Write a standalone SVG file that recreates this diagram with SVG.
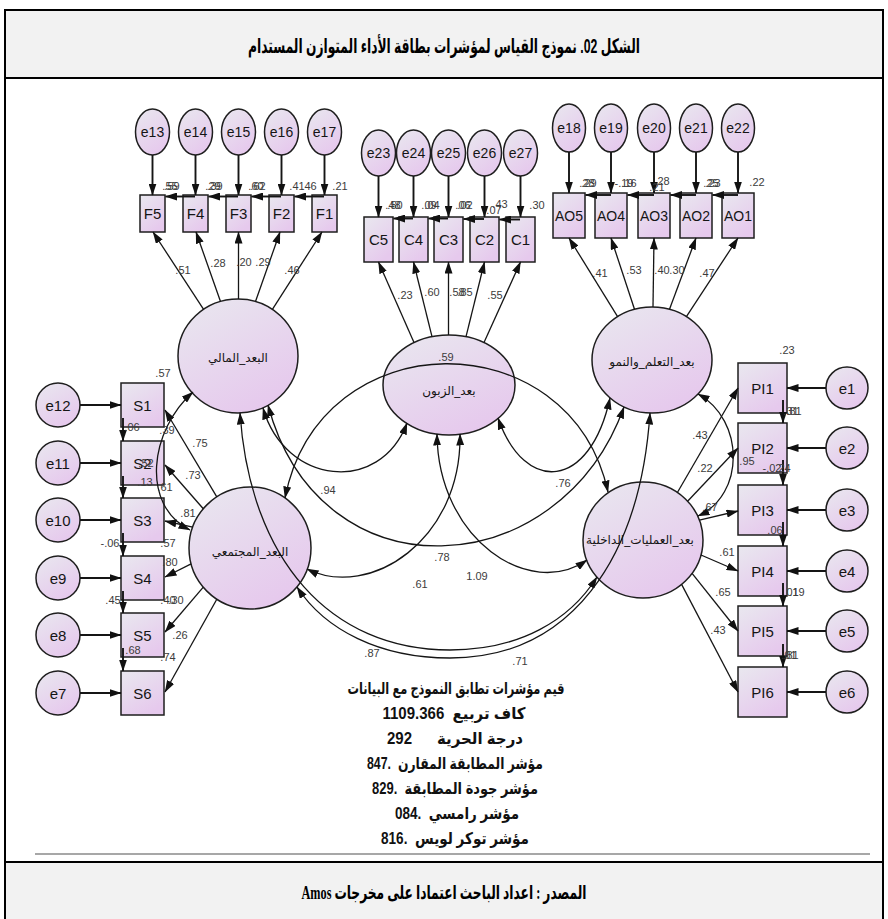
<svg xmlns="http://www.w3.org/2000/svg" width="888" height="919" viewBox="0 0 888 919">
<defs>
<linearGradient id="fillG" x1="0" y1="0" x2="0.6" y2="1">
<stop offset="0" stop-color="#e9e8ef"/><stop offset="1" stop-color="#e6c9ed"/>
</linearGradient>
<marker id="ah" viewBox="0 0 12 8" refX="11.5" refY="4" markerWidth="12" markerHeight="8" markerUnits="userSpaceOnUse" orient="auto-start-reverse"><path d="M0,0 L12,4 L0,8 Z" fill="#111"/></marker>
<style>
.nd{fill:url(#fillG);stroke:#1e1e1e;stroke-width:1.5}
.t{font-family:"Liberation Sans",Arial,sans-serif;font-size:15px;fill:#151515;text-anchor:middle;dominant-baseline:central}
.ts{font-size:14px}
.ar{font-family:"DejaVu Sans","Liberation Sans",sans-serif;font-size:12px;fill:#151515;text-anchor:middle;direction:rtl;dominant-baseline:central}
.n{font-family:"Liberation Sans",Arial,sans-serif;font-size:11px;fill:#3c3c3c;text-anchor:middle}
.c{fill:none;stroke:#151515;stroke-width:1.3;marker-end:url(#ah)}
.cv{marker-start:url(#ah)}
.e{stroke-width:1.9}
.fit{font-family:"Liberation Sans","DejaVu Sans",sans-serif;font-size:16px;font-weight:bold;fill:#111;text-anchor:middle;direction:rtl;white-space:pre;dominant-baseline:central}
.band{fill:#f2f2f2;stroke:#000;stroke-width:2}
</style>
</defs>

<!-- frame, title and source bands -->
<rect x="5" y="10" width="878" height="915" fill="#fff" stroke="#000" stroke-width="2"/>
<rect class="band" x="5" y="10" width="878" height="68"/>
<text x="444" y="46" font-family="Liberation Sans, DejaVu Sans, sans-serif" font-size="20" font-weight="bold" text-anchor="middle" direction="rtl" dominant-baseline="central" textLength="392" lengthAdjust="spacingAndGlyphs">الشكل 02. نموذج القياس لمؤشرات بطاقة الأداء المتوازن المستدام</text>
<path d="M35 854H870" stroke="#8a8a8a" stroke-width="1.5"/>
<rect class="band" x="5" y="862" width="878" height="70"/>
<text x="444" y="892" font-family="Liberation Serif, DejaVu Sans, serif" font-size="19" font-weight="bold" text-anchor="middle" direction="rtl" dominant-baseline="central" textLength="285" lengthAdjust="spacingAndGlyphs">المصدر : اعداد الباحث اعتمادا على مخرجات Amos</text>

<!-- latent factors -->
<g id="f-mali"><ellipse class="nd" cx="238" cy="356" rx="60" ry="57"/><text class="ar" x="238" y="358">البعد_المالي</text></g>
<g id="f-zaboun"><ellipse class="nd" cx="449" cy="385" rx="66" ry="50"/><text class="ar" x="449" y="391">بعد_الزبون</text></g>
<g id="f-taallum"><ellipse class="nd" cx="652" cy="360" rx="60" ry="53"/><text class="ar" x="652" y="362">بعد_التعلم_والنمو</text></g>
<g id="f-mujtamai"><ellipse class="nd" cx="250" cy="548" rx="61" ry="61"/><text class="ar" x="250" y="552">البعد_المجتمعي</text></g>
<g id="f-amaliyat"><ellipse class="nd" cx="643" cy="540" rx="60" ry="58"/><text class="ar" x="640" y="540">بعد_العمليات_الداخلية</text></g>

<!-- financial indicators -->
<g id="e13"><ellipse class="nd" cx="152.5" cy="132" rx="17" ry="23"/><text class="t ts" x="152.5" y="132">e13</text></g>
<g id="e14"><ellipse class="nd" cx="195.5" cy="132" rx="17" ry="23"/><text class="t ts" x="195.5" y="132">e14</text></g>
<g id="e15"><ellipse class="nd" cx="238.5" cy="132" rx="17" ry="23"/><text class="t ts" x="238.5" y="132">e15</text></g>
<g id="e16"><ellipse class="nd" cx="281.5" cy="132" rx="17" ry="23"/><text class="t ts" x="281.5" y="132">e16</text></g>
<g id="e17"><ellipse class="nd" cx="324.5" cy="132" rx="17" ry="23"/><text class="t ts" x="324.5" y="132">e17</text></g>
<g id="F5"><rect class="nd" x="140" y="195" width="25" height="37"/><text class="t" x="152.5" y="213.5">F5</text></g>
<g id="F4"><rect class="nd" x="183" y="195" width="25" height="37"/><text class="t" x="195.5" y="213.5">F4</text></g>
<g id="F3"><rect class="nd" x="226" y="195" width="25" height="37"/><text class="t" x="238.5" y="213.5">F3</text></g>
<g id="F2"><rect class="nd" x="269" y="195" width="25" height="37"/><text class="t" x="281.5" y="213.5">F2</text></g>
<g id="F1"><rect class="nd" x="312" y="195" width="25" height="37"/><text class="t" x="324.5" y="213.5">F1</text></g>

<!-- customer indicators -->
<g id="e23"><ellipse class="nd" cx="378.5" cy="153" rx="17" ry="23"/><text class="t ts" x="378.5" y="153">e23</text></g>
<g id="e24"><ellipse class="nd" cx="413.5" cy="153" rx="17" ry="23"/><text class="t ts" x="413.5" y="153">e24</text></g>
<g id="e25"><ellipse class="nd" cx="448.5" cy="153" rx="17" ry="23"/><text class="t ts" x="448.5" y="153">e25</text></g>
<g id="e26"><ellipse class="nd" cx="484.5" cy="153" rx="17" ry="23"/><text class="t ts" x="484.5" y="153">e26</text></g>
<g id="e27"><ellipse class="nd" cx="520.5" cy="153" rx="17" ry="23"/><text class="t ts" x="520.5" y="153">e27</text></g>
<g id="C5"><rect class="nd" x="364" y="217" width="29" height="45"/><text class="t" x="378.5" y="239.5">C5</text></g>
<g id="C4"><rect class="nd" x="399" y="217" width="29" height="45"/><text class="t" x="413.5" y="239.5">C4</text></g>
<g id="C3"><rect class="nd" x="434" y="217" width="29" height="45"/><text class="t" x="448.5" y="239.5">C3</text></g>
<g id="C2"><rect class="nd" x="470" y="217" width="29" height="45"/><text class="t" x="484.5" y="239.5">C2</text></g>
<g id="C1"><rect class="nd" x="506" y="217" width="29" height="45"/><text class="t" x="520.5" y="239.5">C1</text></g>

<!-- learning and growth indicators -->
<g id="e18"><ellipse class="nd" cx="569" cy="128" rx="16.5" ry="24"/><text class="t ts" x="569" y="128">e18</text></g>
<g id="e19"><ellipse class="nd" cx="611" cy="128" rx="16.5" ry="24"/><text class="t ts" x="611" y="128">e19</text></g>
<g id="e20"><ellipse class="nd" cx="654" cy="128" rx="16.5" ry="24"/><text class="t ts" x="654" y="128">e20</text></g>
<g id="e21"><ellipse class="nd" cx="696" cy="128" rx="16.5" ry="24"/><text class="t ts" x="696" y="128">e21</text></g>
<g id="e22"><ellipse class="nd" cx="738" cy="128" rx="16.5" ry="24"/><text class="t ts" x="738" y="128">e22</text></g>
<g id="AO5"><rect class="nd" x="553" y="193" width="32" height="45"/><text class="t ts" x="569" y="215.5">AO5</text></g>
<g id="AO4"><rect class="nd" x="595" y="193" width="32" height="45"/><text class="t ts" x="611" y="215.5">AO4</text></g>
<g id="AO3"><rect class="nd" x="638" y="193" width="32" height="45"/><text class="t ts" x="654" y="215.5">AO3</text></g>
<g id="AO2"><rect class="nd" x="680" y="193" width="32" height="45"/><text class="t ts" x="696" y="215.5">AO2</text></g>
<g id="AO1"><rect class="nd" x="722" y="193" width="32" height="45"/><text class="t ts" x="738" y="215.5">AO1</text></g>

<!-- social indicators -->
<g id="e12"><circle class="nd" cx="58" cy="405" r="22"/><text class="t" x="58" y="405">e12</text></g>
<g id="e11"><circle class="nd" cx="58" cy="463" r="22"/><text class="t" x="58" y="463">e11</text></g>
<g id="e10"><circle class="nd" cx="58" cy="520" r="22"/><text class="t" x="58" y="520">e10</text></g>
<g id="e9"><circle class="nd" cx="58" cy="578" r="22"/><text class="t" x="58" y="578">e9</text></g>
<g id="e8"><circle class="nd" cx="58" cy="635" r="22"/><text class="t" x="58" y="635">e8</text></g>
<g id="e7"><circle class="nd" cx="58" cy="693" r="22"/><text class="t" x="58" y="693">e7</text></g>
<g id="S1"><rect class="nd" x="121" y="383" width="43" height="44"/><text class="t" x="142.5" y="405">S1</text></g>
<g id="S2"><rect class="nd" x="121" y="441" width="43" height="44"/><text class="t" x="142.5" y="463">S2</text></g>
<g id="S3"><rect class="nd" x="121" y="498" width="43" height="44"/><text class="t" x="142.5" y="520">S3</text></g>
<g id="S4"><rect class="nd" x="121" y="556" width="43" height="44"/><text class="t" x="142.5" y="578">S4</text></g>
<g id="S5"><rect class="nd" x="121" y="613" width="43" height="44"/><text class="t" x="142.5" y="635">S5</text></g>
<g id="S6"><rect class="nd" x="121" y="671" width="43" height="44"/><text class="t" x="142.5" y="693">S6</text></g>

<!-- internal process indicators -->
<g id="e1"><circle class="nd" cx="847" cy="388" r="21"/><text class="t" x="847" y="388">e1</text></g>
<g id="e2"><circle class="nd" cx="847" cy="448" r="21"/><text class="t" x="847" y="448">e2</text></g>
<g id="e3"><circle class="nd" cx="847" cy="510" r="21"/><text class="t" x="847" y="510">e3</text></g>
<g id="e4"><circle class="nd" cx="847" cy="571" r="21"/><text class="t" x="847" y="571">e4</text></g>
<g id="e5"><circle class="nd" cx="847" cy="631" r="21"/><text class="t" x="847" y="631">e5</text></g>
<g id="e6"><circle class="nd" cx="847" cy="692" r="21"/><text class="t" x="847" y="692">e6</text></g>
<g id="PI1"><rect class="nd" x="738" y="363" width="49" height="50"/><text class="t" x="762.5" y="388">PI1</text></g>
<g id="PI2"><rect class="nd" x="738" y="423" width="49" height="50"/><text class="t" x="762.5" y="448">PI2</text></g>
<g id="PI3"><rect class="nd" x="738" y="485" width="49" height="50"/><text class="t" x="762.5" y="510">PI3</text></g>
<g id="PI4"><rect class="nd" x="738" y="546" width="49" height="50"/><text class="t" x="762.5" y="571">PI4</text></g>
<g id="PI5"><rect class="nd" x="738" y="606" width="49" height="50"/><text class="t" x="762.5" y="631">PI5</text></g>
<g id="PI6"><rect class="nd" x="738" y="667" width="49" height="50"/><text class="t" x="762.5" y="692">PI6</text></g>

<g id="connectors">
<!-- error terms -->
<path class="c e" d="M152.5 155V195"/><path class="c e" d="M195.5 155V195"/><path class="c e" d="M238.5 155V195"/><path class="c e" d="M281.5 155V195"/><path class="c e" d="M324.5 155V195"/>
<path class="c e" d="M378.5 176V217"/><path class="c e" d="M413.5 176V217"/><path class="c e" d="M448.5 176V217"/><path class="c e" d="M484.5 176V217"/><path class="c e" d="M520.5 176V217"/>
<path class="c e" d="M569 152V193"/><path class="c e" d="M611 152V193"/><path class="c e" d="M654 152V193"/><path class="c e" d="M696 152V193"/><path class="c e" d="M738 152V193"/>
<path class="c e" d="M80 405H121"/><path class="c e" d="M80 463H121"/><path class="c e" d="M80 520H121"/><path class="c e" d="M80 578H121"/><path class="c e" d="M80 635H121"/><path class="c e" d="M80 693H121"/>
<path class="c e" d="M826 388H787"/><path class="c e" d="M826 448H787"/><path class="c e" d="M826 510H787"/><path class="c e" d="M826 571H787"/><path class="c e" d="M826 631H787"/><path class="c e" d="M826 692H787"/>
<!-- links between neighbouring indicators -->
<path class="c e" d="M195 196.5H165.5"/><path class="c e" d="M238 196.5H208.5"/><path class="c e" d="M281 196.5H251.5"/><path class="c e" d="M324 196.5H294.5"/>
<path class="c e" d="M413 218.5H393.5"/><path class="c e" d="M448 218.5H428.5"/><path class="c e" d="M484 219H463.5"/><path class="c e" d="M520 219.5H499.5"/>
<path class="c e" d="M611 195H585.5"/><path class="c e" d="M654 195H627.5"/><path class="c e" d="M696 195H670.5"/><path class="c e" d="M738 195H712.5"/>
<path class="c e" d="M123 418V441"/><path class="c e" d="M123 476V498"/><path class="c e" d="M123 533V556"/><path class="c e" d="M123 591V613"/><path class="c e" d="M123 648V671"/>
<path class="c e" d="M783 400V423"/><path class="c e" d="M783 460V485"/><path class="c e" d="M783 522V546"/><path class="c e" d="M783 583V606"/><path class="c e" d="M783 644V667"/>
<!-- factor loadings -->
<path class="c" d="M203.6 309.3L153 232"/><path class="c" d="M220.5 301.5L196 232"/><path class="c" d="M238.5 299V232"/><path class="c" d="M255.5 301.5L280 232"/><path class="c" d="M272.4 309.3L322 232"/>
<path class="c" d="M414 342.6L378.5 262"/><path class="c" d="M432 336.7L413.5 262"/><path class="c" d="M448.5 335V262"/><path class="c" d="M466 336.7L484.5 262"/><path class="c" d="M484 342.6L520.5 262"/>
<path class="c" d="M617.6 316.6L569 238"/><path class="c" d="M634.5 309.3L611 238"/><path class="c" d="M653 307L654 238"/><path class="c" d="M669.5 309.3L696 238"/><path class="c" d="M686.4 316.6L738 238"/>
<path class="c" d="M216.8 496.8L165 410"/><path class="c" d="M203.3 508.8L165 465"/><path class="c" d="M192.7 527.1L165 521"/><path class="c" d="M191.1 563.8L165 577"/><path class="c" d="M203.3 587.2L165 632"/><path class="c" d="M216.8 599.2L165 692"/>
<path class="c" d="M677.4 492.5L738 388"/><path class="c" d="M687.6 501.2L738 448"/><path class="c" d="M699.4 520.2L738 511"/><path class="c" d="M701 555L738 571"/><path class="c" d="M692.1 573.3L738 631"/><path class="c" d="M681.6 584.4L738 692"/>
<!-- factor covariances -->
<path class="c cv" d="M193 392C150 430 140 505 190 530"/>
<path class="c cv" d="M698 394C745 420 745 495 698 516"/>
<path class="c cv" d="M263 408C285 485 380 495 407 423"/>
<path class="c cv" d="M268 405C320 600 560 585 624 407"/>
<path class="c cv" d="M498 418C525 495 590 490 610 398"/>
<path class="c cv" d="M285 498C320 320 570 320 608 492"/>
<path class="c cv" d="M460 434C462 540 370 600 307 569"/>
<path class="c cv" d="M437 434C438 540 530 600 587 560"/>
<path class="c cv" d="M240 413C250 560 330 650 450 650C520 650 570 620 597 577"/>
<path class="c cv" d="M650 413C640 560 570 658 450 658C380 658 325 630 297 587"/>
</g>

<g id="estimates">
<!-- financial -->
<text class="n" x="170" y="190">.55</text><text class="n" x="172" y="190">.59</text>
<text class="n" x="213" y="190">.29</text><text class="n" x="215" y="190">.39</text>
<text class="n" x="256" y="190">.60</text><text class="n" x="258" y="190">.62</text>
<text class="n" x="297" y="190">.41</text><text class="n" x="309" y="190">.46</text>
<text class="n" x="340" y="190">.21</text>
<text class="n" x="183" y="274">.51</text><text class="n" x="218" y="267">.28</text><text class="n" x="244" y="266">.20</text><text class="n" x="263" y="266">.29</text><text class="n" x="292" y="274">.46</text>
<!-- customer -->
<text class="n" x="393" y="209">.48</text><text class="n" x="395" y="209">.50</text>
<text class="n" x="429" y="209">.09</text><text class="n" x="432" y="209">.04</text>
<text class="n" x="463" y="209">.06</text><text class="n" x="465" y="209">.02</text>
<text class="n" x="500" y="208">.43</text><text class="n" x="494" y="214">.07</text>
<text class="n" x="537" y="209">.30</text>
<text class="n" x="405" y="299">.23</text><text class="n" x="432" y="296">.60</text><text class="n" x="457" y="296">.58</text><text class="n" x="465" y="296">.85</text><text class="n" x="495" y="299">.55</text>
<!-- learning and growth -->
<text class="n" x="587" y="187">.28</text><text class="n" x="589" y="187">.29</text>
<text class="n" x="624" y="187">-.19</text><text class="n" x="629" y="187">.16</text>
<text class="n" x="662" y="185">.28</text><text class="n" x="657" y="191">.21</text>
<text class="n" x="711" y="187">.25</text><text class="n" x="713" y="187">.23</text>
<text class="n" x="757" y="186">.22</text>
<text class="n" x="600" y="277">.41</text><text class="n" x="634" y="274">.53</text><text class="n" x="662" y="274">.40</text><text class="n" x="677" y="274">.30</text><text class="n" x="707" y="277">.47</text>
<text class="n" x="446" y="361">.59</text>
<!-- social -->
<text class="n" x="163" y="377">.57</text>
<text class="n" x="132" y="431">.06</text><text class="n" x="167" y="434">.39</text>
<text class="n" x="146" y="467">.52</text>
<text class="n" x="145" y="486">.13</text><text class="n" x="165" y="491">.61</text>
<text class="n" x="110" y="547">-.06</text><text class="n" x="168" y="547">.57</text>
<text class="n" x="170" y="566">.80</text>
<text class="n" x="113" y="604">.45</text><text class="n" x="168" y="604">.40</text><text class="n" x="176" y="604">.30</text>
<text class="n" x="133" y="654">.68</text>
<text class="n" x="200" y="447">.75</text><text class="n" x="193" y="479">.73</text><text class="n" x="188" y="517">.81</text><text class="n" x="180" y="639">.26</text><text class="n" x="168" y="661">.74</text>
<!-- internal processes -->
<text class="n" x="787" y="354">.23</text>
<text class="n" x="791" y="415">.31</text><text class="n" x="794" y="415">.81</text>
<text class="n" x="747" y="465">.95</text>
<text class="n" x="772" y="472">-.02</text><text class="n" x="783" y="472">.24</text>
<text class="n" x="775" y="534">.06</text>
<text class="n" x="791" y="596">.01</text><text class="n" x="797" y="596">.19</text>
<text class="n" x="789" y="659">.01</text><text class="n" x="791" y="659">.81</text>
<text class="n" x="700" y="439">.43</text><text class="n" x="705" y="472">.22</text><text class="n" x="710" y="511">.67</text><text class="n" x="727" y="556">.61</text><text class="n" x="723" y="596">.65</text><text class="n" x="718" y="634">.43</text>
<!-- covariances -->
<text class="n" x="328" y="494">.94</text><text class="n" x="563" y="487">.76</text><text class="n" x="442" y="561">.78</text><text class="n" x="420" y="588">.61</text><text class="n" x="477" y="580">1.09</text>
<text class="n" x="372" y="657">.87</text><text class="n" x="520" y="665">.71</text>
</g>

<g id="fit-indices">
<text class="fit" x="456" y="688" textLength="217" lengthAdjust="spacingAndGlyphs">قيم مؤشرات تطابق النموذج مع البيانات</text>
<text class="fit" x="454" y="713" textLength="143" lengthAdjust="spacingAndGlyphs">كاف تربيع  1109.366</text>
<text class="fit" x="455" y="738" textLength="136" lengthAdjust="spacingAndGlyphs">درجة الحرية      292</text>
<text class="fit" x="455" y="763" textLength="176" lengthAdjust="spacingAndGlyphs">مؤشر المطابقة المقارن  .847</text>
<text class="fit" x="455" y="788" textLength="166" lengthAdjust="spacingAndGlyphs">مؤشر جودة المطابقة  .829</text>
<text class="fit" x="457" y="813" textLength="124" lengthAdjust="spacingAndGlyphs">مؤشر رامسي  .084</text>
<text class="fit" x="455" y="838" textLength="148" lengthAdjust="spacingAndGlyphs">مؤشر توكر لويس  .816</text>
</g>
</svg>
